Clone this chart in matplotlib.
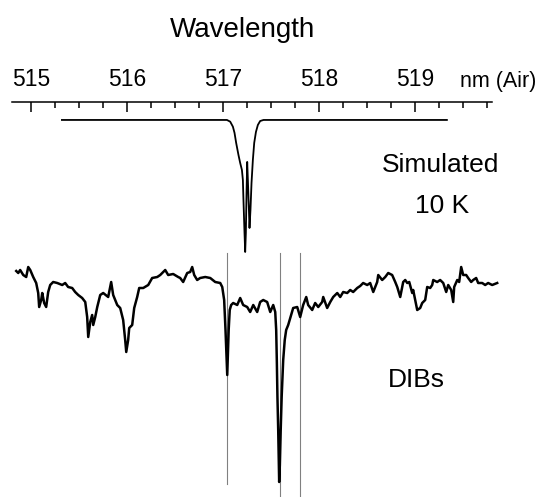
import matplotlib
matplotlib.use("Agg")
import matplotlib.pyplot as plt
from matplotlib.ticker import MultipleLocator

plt.rcParams['font.family'] = ['Liberation Sans', 'DejaVu Sans']

# simulated band profile at 10 K (relative flux)
sim_wl = [515.32, 517.02, 517.039, 517.073, 517.101, 517.118, 517.135, 517.159,
          517.177, 517.195, 517.205, 517.211, 517.222, 517.229, 517.236, 517.243,
          517.250, 517.257, 517.268, 517.274, 517.284, 517.295, 517.309, 517.323,
          517.341, 517.361, 517.385, 517.420, 519.33]
sim_flux = [1.0, 1.0, 1.0, 0.987, 0.949, 0.902, 0.826, 0.735,
            0.674, 0.621, 0.545, 0.394, 0.144, 0.0, 0.144, 0.447,
            0.682, 0.545, 0.318, 0.182, 0.318, 0.523, 0.697, 0.826,
            0.909, 0.962, 0.992, 1.0, 1.0]

# observed DIB spectrum (relative flux)
dib_wl = [514.844, 514.865, 514.885, 514.917, 514.948, 514.969, 514.990, 515.021,
          515.052, 515.073, 515.083, 515.104, 515.115, 515.135, 515.156, 515.177,
          515.198, 515.229, 515.271, 515.323, 515.354, 515.385, 515.427, 515.458,
          515.490, 515.531, 515.563, 515.583, 515.594, 515.615, 515.635, 515.646,
          515.667, 515.688, 515.719, 515.750, 515.802, 515.833, 515.854, 515.875,
          515.896, 515.927, 515.958, 515.979, 515.990, 516.010, 516.021, 516.052,
          516.073, 516.104, 516.125, 516.167, 516.219, 516.260, 516.313, 516.344,
          516.396, 516.427, 516.479, 516.531, 516.552, 516.583, 516.625, 516.656,
          516.677, 516.698, 516.729, 516.760, 516.813, 516.865, 516.917, 516.969,
          516.990, 517.010, 517.024, 517.034, 517.042, 517.049, 517.057, 517.068,
          517.083, 517.104, 517.146, 517.177, 517.208, 517.250, 517.281, 517.313,
          517.354, 517.385, 517.417, 517.458, 517.490, 517.521, 517.542, 517.552,
          517.559, 517.565, 517.573, 517.579, 517.583, 517.590, 517.599, 517.609,
          517.625, 517.641, 517.656, 517.677, 517.708, 517.729, 517.771, 517.802,
          517.833, 517.865, 517.885, 517.927, 517.958, 517.990, 518.031, 518.042,
          518.083, 518.115, 518.146, 518.188, 518.219, 518.250, 518.292, 518.323,
          518.354, 518.396, 518.427, 518.458, 518.500, 518.531, 518.563, 518.604,
          518.615, 518.656, 518.688, 518.719, 518.760, 518.792, 518.813, 518.844,
          518.875, 518.896, 518.917, 518.938, 518.969, 518.979, 519.000, 519.021,
          519.052, 519.073, 519.104, 519.125, 519.156, 519.177, 519.188, 519.229,
          519.260, 519.292, 519.323, 519.344, 519.375, 519.396, 519.406, 519.438,
          519.458, 519.479, 519.500, 519.531, 519.552, 519.583, 519.604, 519.635,
          519.656, 519.698, 519.729, 519.760, 519.802, 519.854]
dib_flux = [1.028, 1.020, 1.032, 1.012, 1.004, 1.044, 1.032, 1.004,
            0.980, 0.940, 0.884, 0.912, 0.940, 0.900, 0.884, 0.944,
            0.972, 0.984, 0.980, 0.972, 0.980, 0.964, 0.960, 0.944,
            0.932, 0.920, 0.904, 0.844, 0.764, 0.824, 0.852, 0.812,
            0.844, 0.884, 0.932, 0.940, 0.924, 0.984, 0.932, 0.912,
            0.892, 0.880, 0.832, 0.752, 0.704, 0.752, 0.800, 0.812,
            0.880, 0.924, 0.960, 0.960, 0.972, 1.000, 1.004, 1.012,
            1.032, 1.012, 1.016, 1.004, 1.000, 0.984, 1.020, 1.024,
            1.044, 1.012, 0.992, 1.000, 1.004, 1.000, 0.984, 0.980,
            0.964, 0.912, 0.792, 0.692, 0.612, 0.692, 0.792, 0.872,
            0.892, 0.900, 0.892, 0.920, 0.892, 0.884, 0.864, 0.892,
            0.864, 0.904, 0.912, 0.904, 0.864, 0.892, 0.864, 0.792,
            0.660, 0.524, 0.392, 0.252, 0.184, 0.252, 0.392, 0.524,
            0.672, 0.752, 0.792, 0.812, 0.852, 0.880, 0.884, 0.844,
            0.892, 0.924, 0.892, 0.872, 0.900, 0.884, 0.904, 0.924,
            0.880, 0.904, 0.924, 0.940, 0.924, 0.944, 0.940, 0.952,
            0.944, 0.960, 0.968, 0.980, 0.972, 0.980, 0.944, 0.984,
            1.012, 0.992, 1.004, 1.020, 1.012, 0.984, 0.964, 0.924,
            0.984, 0.992, 0.980, 0.984, 0.940, 0.952, 0.912, 0.872,
            0.880, 0.900, 0.912, 0.964, 0.960, 0.972, 0.992, 0.984,
            0.992, 0.980, 0.944, 0.972, 0.952, 0.904, 0.964, 0.992,
            0.984, 1.044, 1.012, 1.012, 1.000, 0.984, 0.992, 1.000,
            0.980, 0.980, 0.972, 0.980, 0.972, 0.980]

# band positions marked by thin lines
dib_marks = [517.04, 517.59, 517.80]

major_ticks = [515, 516, 517, 518, 519]
wl_range = (514.80, 519.80)

W, H = 541, 497
fig = plt.figure(figsize=(W / 100, H / 100), dpi=100)

# top panel: simulated profile, its top spine is the wavelength axis
ax = fig.add_axes([12 / W, 1 - 262 / H, 480 / W, 160 / H])
ax.plot(sim_wl, sim_flux, color='black', lw=1.3, clip_on=False,
        solid_joinstyle='round')
ax.set_xlim(*wl_range)
ax.set_ylim(-0.076, 1.136)
for s in ['left', 'right', 'bottom']:
    ax.spines[s].set_visible(False)
ax.spines['top'].set_linewidth(1.1)
ax.xaxis.set_ticks_position('top')
ax.xaxis.set_label_position('top')
ax.set_xticks(major_ticks)
ax.xaxis.set_minor_locator(MultipleLocator(0.25))
ax.tick_params(axis='x', which='major', direction='in', length=7.2, width=1.1,
               pad=8, labelsize=16.5)
ax.tick_params(axis='x', which='minor', direction='in', length=4.3, width=1.1)
ax.set_yticks([])
ax.patch.set_alpha(0)

# bottom panel: DIB spectrum
ax2 = fig.add_axes([12 / W, 0, 480 / W, 247 / H])
ax2.set_xlim(*wl_range)
ax2.set_ylim(0.124, 1.112)
ax2.axis('off')
for x, lo in zip(dib_marks, [0.053, 0.0, 0.0]):
    ax2.axvline(x, ymin=lo, ymax=0.988, color='0.5', lw=0.8)
ax2.plot(dib_wl, dib_flux, color='black', lw=1.8, clip_on=False,
         solid_joinstyle='round')

fig.text(243 / W, 1 - 37 / H, 'Wavelength', fontsize=20, ha='center', va='baseline')
fig.text(498 / W, 1 - 87 / H, 'nm (Air)', fontsize=15.5, ha='center', va='baseline')
fig.text(441 / W, 1 - 172 / H, 'Simulated', fontsize=19, ha='center', va='baseline')
fig.text(442 / W, 1 - 213 / H, '10 K', fontsize=19, ha='center', va='baseline')
fig.text(416 / W, 1 - 387 / H, 'DIBs', fontsize=19, ha='center', va='baseline')

fig.savefig('out.png', dpi=100)
